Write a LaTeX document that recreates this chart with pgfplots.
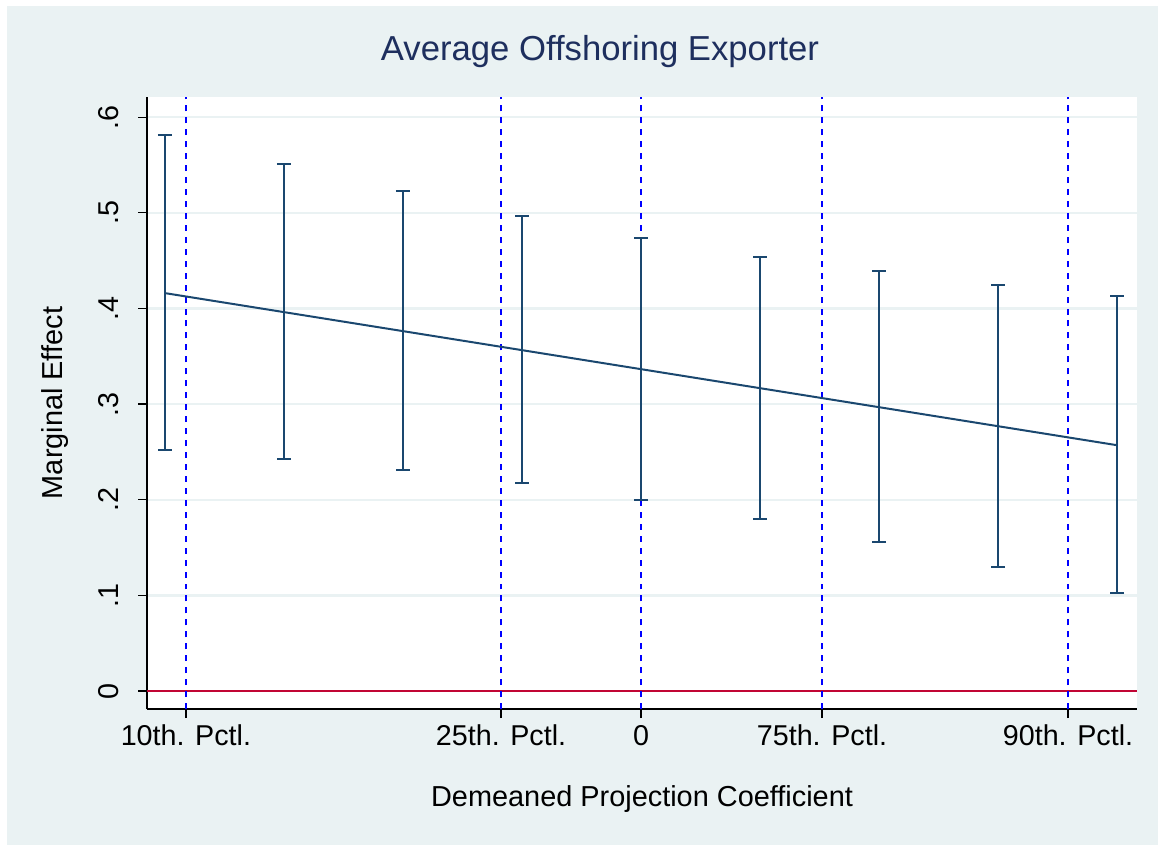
\documentclass[border=0pt]{standalone}
\usepackage{pgfplots}
\pgfplotsset{compat=1.18}
\usepackage{fontspec}
\setmainfont{Liberation Sans}
\definecolor{stnavy}{HTML}{1A476F}
\definecolor{sttitle}{HTML}{1E2F5E}
\definecolor{stbg}{HTML}{EAF2F3}
\definecolor{stred}{HTML}{C10534}
\definecolor{dblue}{HTML}{0000FF}
\begin{document}
\begin{tikzpicture}[x=1bp,y=1bp]
\fill[white] (0,0) rectangle (579,-422.5);
\fill[stbg] (3.5,-3) rectangle (579,-422.5);
\node[text=sttitle,font=\fontsize{17.4}{20}\selectfont] at (300,-26) {Average Offshoring Exporter};
\begin{axis}[at={(73.5bp,-354.5bp)},anchor=south west,scale only axis,
 width=495bp,height=306bp,
 axis background/.style={fill=white},
 xmin=-4.151,xmax=4.168,ymin=-0.0188,ymax=0.621,
 axis lines*=left, axis line style={black,line width=0.6pt},
 tick style={black,line width=0.6pt}, tick align=outside, major tick length=4.5bp,
 xtick={-3.824,-1.176,0,1.521,3.588},
 xticklabels={10th. Pctl.,25th. Pctl.,0,75th. Pctl.,90th. Pctl.},
 ytick={0,0.1,0.2,0.3,0.4,0.5,0.6},
 yticklabels={0,.1,.2,.3,.4,.5,.6},
 yticklabel style={rotate=90,anchor=south,yshift=6bp},
 ymajorgrids, grid style={stbg,line width=1.2pt},
 tick label style={font=\fontsize{14.4}{16}\selectfont},
 label style={font=\fontsize{14.5}{16}\selectfont},
 xlabel={Demeaned Projection Coefficient},
 ylabel={Marginal Effect},
 xlabel style={yshift=-13bp}, ylabel style={yshift=8bp},
 clip=false,
]
\addplot[draw=stred,line width=1pt] coordinates {(-4.151,0) (4.168,0)};
\addplot[draw=dblue,dashed,line width=0.7pt] coordinates {(-3.824,-0.0188) (-3.824,0.621)};
\addplot[draw=dblue,dashed,line width=0.7pt] coordinates {(-1.176,-0.0188) (-1.176,0.621)};
\addplot[draw=dblue,dashed,line width=0.7pt] coordinates {(0,-0.0188) (0,0.621)};
\addplot[draw=dblue,dashed,line width=0.7pt] coordinates {(1.521,-0.0188) (1.521,0.621)};
\addplot[draw=dblue,dashed,line width=0.7pt] coordinates {(3.588,-0.0188) (3.588,0.621)};
\addplot[draw=stnavy,line width=1pt,mark=none] coordinates {(-4,0.416) (4,0.257)};
\addplot[stnavy,line width=1pt,draw=none,
 error bars/.cd, y dir=both, y explicit, error mark=-, error mark options={stnavy,line width=1pt,mark size=3.5bp,rotate=90},
 error bar style={stnavy,line width=1pt}]
 table[x=x,y=y,y error plus=p,y error minus=m]{
x y p m
-4 0.416 0.165 0.164
-3 0.396 0.155 0.153
-2 0.376 0.147 0.145
-1 0.356 0.141 0.139
0 0.336 0.138 0.136
1 0.316 0.138 0.136
2 0.296 0.143 0.140
3 0.276 0.148 0.146
4 0.257 0.156 0.155
};
\end{axis}
\end{tikzpicture}
\end{document}
